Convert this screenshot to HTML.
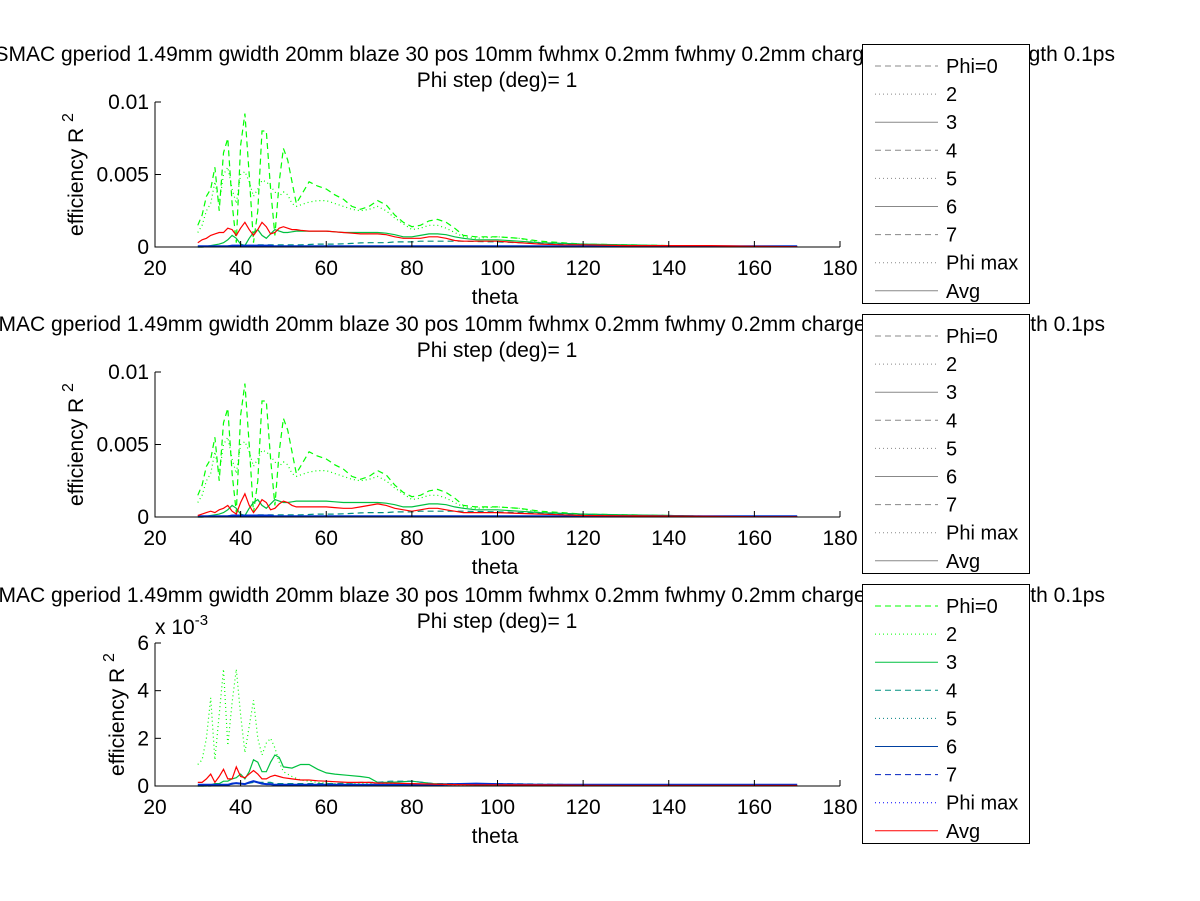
<!DOCTYPE html>
<html><head><meta charset="utf-8">
<style>
html,body{margin:0;padding:0;background:#fff;}
svg{display:block;font-family:"Liberation Sans",sans-serif;}
</style></head>
<body>
<svg id="fig" width="1200" height="901" viewBox="0 0 1200 901" xmlns="http://www.w3.org/2000/svg">
<rect x="0" y="0" width="1200" height="901" fill="#fff"/>
</svg>
<script>
// ---- data (theta in deg, values in units of 1e-3) ----
const xTicks = [20,40,60,80,100,120,140,160,180];
const yTicksTop = [0,5,10];
const yTickLabelsTop = ["0","0.005","0.01"];
const yTicksBot = [0,2,4,6];
const yTickLabelsBot = ["0","2","4","6"];
const legendLabels = ["Phi=0","2","3","4","5","6","7","Phi max","Avg"];

const thA = [30,31,32,33,34,35,36,37,38,39,40,41,42,43,44,45,46,47,48,49,50,51,52,53,54,56,58,60,62,64,66,68,70,72,74,76,78,80,82,84,86,88,90,92,95,100,105,110,115,120,130,140,150,160,170];
const p1Phi0 = [1.5,2.2,3.5,4.0,5.5,2.5,6.5,7.5,3.0,0.3,7.0,9.2,5.0,0.3,2.5,8.0,8.0,4.0,0.8,4.5,6.8,6.0,4.5,3.0,3.5,4.5,4.2,4.0,3.6,3.3,2.8,2.6,2.8,3.2,2.9,2.2,1.7,1.4,1.5,1.8,1.9,1.7,1.3,0.8,0.7,0.7,0.6,0.4,0.3,0.2,0.15,0.1,0.05,0.03,0.02];
const p1Phi2 = [1.0,1.5,2.5,3.0,4.5,3.0,5.0,5.5,4.0,3.0,5.0,5.2,4.5,3.5,4.0,4.6,4.5,4.2,3.8,3.5,3.8,3.6,3.0,2.8,2.9,3.1,3.2,3.2,3.0,2.8,2.6,2.5,2.6,2.8,2.5,2.0,1.6,1.2,1.3,1.5,1.5,1.3,1.0,0.7,0.6,0.7,0.6,0.3,0.25,0.2,0.12,0.08,0.04,0.02,0.01];
const p1S3 = [0.0,0.0,0.05,0.1,0.15,0.2,0.3,0.5,0.8,0.6,0.2,0.1,0.6,1.0,1.2,0.8,0.6,0.9,1.2,1.1,1.0,1.0,1.05,1.1,1.1,1.1,1.1,1.1,1.05,1.0,1.0,1.0,1.0,1.0,0.95,0.85,0.7,0.7,0.8,0.9,0.9,0.85,0.7,0.6,0.5,0.5,0.4,0.3,0.25,0.2,0.15,0.1,0.05,0.03,0.02];
const p1S4 = [0.0,0.0,0.0,0.02,0.03,0.05,0.05,0.08,0.1,0.1,0.1,0.1,0.12,0.12,0.15,0.15,0.15,0.15,0.15,0.15,0.15,0.15,0.15,0.15,0.15,0.17,0.2,0.2,0.2,0.22,0.25,0.28,0.3,0.3,0.3,0.35,0.35,0.35,0.4,0.4,0.4,0.4,0.4,0.4,0.38,0.35,0.3,0.25,0.2,0.15,0.1,0.1,0.05,0.03,0.02];
const p1Blue = [0.05,0.05,0.05,0.05,0.05,0.05,0.05,0.05,0.1,0.1,0.1,0.1,0.1,0.1,0.1,0.1,0.1,0.1,0.05,0.05,0.05,0.05,0.05,0.05,0.05,0.05,0.05,0.05,0.05,0.05,0.05,0.05,0.05,0.05,0.05,0.05,0.05,0.05,0.05,0.05,0.05,0.05,0.05,0.05,0.05,0.05,0.05,0.05,0.05,0.05,0.05,0.05,0.05,0.05,0.05];
const p1Avg = [0.3,0.5,0.6,0.8,0.9,1.0,1.0,1.3,1.2,0.8,1.3,1.7,1.2,0.8,1.2,1.7,1.4,0.9,1.0,1.3,1.4,1.3,1.2,1.2,1.15,1.1,1.1,1.1,1.05,1.0,0.95,0.9,0.9,0.9,0.85,0.7,0.6,0.6,0.6,0.7,0.7,0.6,0.45,0.4,0.4,0.4,0.3,0.2,0.15,0.15,0.1,0.1,0.1,0.05,0.02];
const p2Avg = [0.1,0.2,0.3,0.4,0.3,0.5,0.6,0.8,0.4,0.2,1.0,1.6,0.8,0.3,0.7,1.2,1.0,0.5,0.6,0.9,1.1,1.0,0.8,0.7,0.7,0.7,0.7,0.7,0.65,0.6,0.6,0.7,0.8,0.9,0.8,0.6,0.5,0.4,0.5,0.6,0.6,0.5,0.4,0.3,0.3,0.3,0.25,0.2,0.15,0.1,0.08,0.06,0.04,0.02,0.02];

const thB = [30,31,32,33,34,35,36,37,38,39,40,41,42,43,44,45,46,47,48,49,50,52,54,56,58,60,62,65,68,70,72,75,80,85,90,95,100,110,120,130,140,150,160,170];
const p3Phi2 = [0.9,1.1,2.0,3.7,1.1,3.0,4.9,1.7,3.5,4.9,3.0,1.4,2.5,3.6,2.0,1.3,1.8,2.0,1.6,1.0,0.6,0.4,0.25,0.2,0.15,0.12,0.1,0.1,0.1,0.1,0.1,0.1,0.1,0.05,0.05,0.05,0.05,0.03,0.02,0.02,0.02,0.02,0.02,0.02];
const p3S3 = [0.0,0.0,0.0,0.05,0.1,0.1,0.2,0.2,0.3,0.35,0.5,0.3,0.6,1.1,1.0,0.6,0.6,1.0,1.3,1.2,0.8,0.75,0.9,0.9,0.7,0.55,0.5,0.45,0.4,0.35,0.15,0.15,0.2,0.1,0.08,0.05,0.05,0.04,0.03,0.02,0.02,0.02,0.02,0.02];
const p3S4 = [0.0,0.0,0.0,0.0,0.02,0.03,0.05,0.05,0.08,0.1,0.1,0.1,0.12,0.15,0.15,0.15,0.15,0.15,0.1,0.1,0.1,0.1,0.1,0.1,0.1,0.1,0.1,0.12,0.15,0.15,0.15,0.2,0.2,0.1,0.1,0.1,0.1,0.08,0.05,0.05,0.05,0.03,0.02,0.02];
const p3Blue = [0.05,0.05,0.05,0.05,0.05,0.05,0.05,0.05,0.1,0.12,0.1,0.08,0.15,0.2,0.15,0.1,0.08,0.08,0.05,0.05,0.05,0.05,0.05,0.05,0.05,0.05,0.05,0.05,0.05,0.05,0.05,0.05,0.05,0.05,0.08,0.1,0.08,0.05,0.05,0.05,0.05,0.05,0.05,0.05];
const p3Avg = [0.15,0.15,0.3,0.5,0.15,0.4,0.7,0.3,0.3,0.8,0.4,0.35,0.5,0.65,0.5,0.3,0.3,0.4,0.45,0.4,0.35,0.3,0.25,0.25,0.22,0.2,0.18,0.15,0.15,0.15,0.12,0.12,0.1,0.08,0.06,0.05,0.05,0.04,0.03,0.02,0.02,0.02,0.02,0.02];

// ---- drawing ----
const NS = "http://www.w3.org/2000/svg";
const svg = document.getElementById('fig');
function mk(tag, attrs, parent){
  const e = document.createElementNS(NS, tag);
  for (const k in attrs) e.setAttribute(k, attrs[k]);
  (parent||svg).appendChild(e);
  return e;
}
const FS = 21;
const X0 = 155, X1 = 840;
const styles = {
  phi0:{stroke:"#00ff00", dash:"6,4"},
  phi2:{stroke:"#00ff00", dash:"1,3"},
  s3:{stroke:"#00c040", dash:""},
  s4:{stroke:"#009080", dash:"6,4"},
  blue:{stroke:"#0030d0", dash:"", w:2},
  avg:{stroke:"#ff0000", dash:""}
};
function drawPlot(idx, yBase, yTop, yMax, ticks, tickLabels, series, titleEnd, exp){
  const g = mk('g', {});
  
  
  const sx = v => X0 + (v - 20) / 160 * (X1 - X0);
  const sy = v => yBase - v / yMax * (yBase - yTop);
  const t1 = mk('text', {x: titleEnd, y: yTop - 41, 'font-size': FS, 'text-anchor': 'end'}, g);
  t1.textContent = "SMAC gperiod 1.49mm gwidth 20mm blaze 30 pos 10mm fwhmx 0.2mm fwhmy 0.2mm charge 20pC bunch length 0.1ps";
  
  
  const t2 = mk('text', {x: 497, y: yTop - 15, 'font-size': FS, 'text-anchor': 'middle'}, g);
  t2.textContent = "Phi step (deg)= 1";
  
  
  series.forEach(s => {
    const st = styles[s.style];
    let d = "";
    s.th.forEach((th, i) => { d += (i ? "L" : "M") + sx(th).toFixed(1) + "," + sy(s.v[i]).toFixed(1); });
    const p = mk('path', {d: d, fill: 'none', stroke: st.stroke, 'stroke-width': st.w || 1.2, 'stroke-dasharray': st.dash}, g);
    
    
  });
  const ax = mk('path', {d: `M${X0},${yTop}V${yBase}H${X1}`, fill: 'none', stroke: '#000', 'stroke-width': 1}, g);
  
  
  xTicks.forEach(v => {
    mk('line', {x1: sx(v), x2: sx(v), y1: yBase, y2: yBase - 6, stroke: '#000'}, g);
    const tl = mk('text', {x: sx(v), y: yBase + 28, 'font-size': FS, 'text-anchor': 'middle'}, g);
    tl.textContent = v;
    
    
  });
  ticks.forEach((v, i) => {
    mk('line', {x1: X0, x2: X0 + 6, y1: sy(v), y2: sy(v), stroke: '#000'}, g);
    const tl = mk('text', {x: X0 - 6, y: sy(v) + 7, 'font-size': FS, 'text-anchor': 'end'}, g);
    tl.textContent = tickLabels[i];
    
    
  });
  if (exp) {
    const e = mk('text', {x: 155, y: yTop - 9, 'font-size': FS}, g);
    e.innerHTML = 'x 10<tspan dy="-9" font-size="15">-3</tspan>';
    
    
  }
  const xl = mk('text', {x: 495, y: yBase + 57, 'font-size': FS, 'text-anchor': 'middle'}, g);
  xl.textContent = "theta";
  
  
  const ylx = exp ? 124 : 83;
  const yl = mk('text', {x: 0, y: 0, 'font-size': FS, 'text-anchor': 'middle', transform: `translate(${ylx},${(yBase + yTop) / 2}) rotate(-90)`}, g);
  yl.innerHTML = 'efficiency R <tspan dy="-10" font-size="16">2</tspan>';
  
  
}
function drawLegend(idx, top, colored){
  const g = mk('g', {});
  
  
  mk('rect', {x: 862.5, y: top + 0.5, width: 167, height: 259, fill: '#fff', stroke: '#000'}, g);
  const cols = ["#00ff00","#00ff00","#00c040","#009080","#008080","#0040a0","#0020c0","#0000ff","#ff0000"];
  const dashes = ["6,4","1,3","","6,4","1,3","","6,4","1,3",""];
  legendLabels.forEach((lab, i) => {
    const y = top + 22 + i * 28.1;
    const ln = mk('line', {x1: 875, x2: 938, y1: y, y2: y, stroke: colored ? cols[i] : '#888', 'stroke-width': 1, 'stroke-dasharray': dashes[i]}, g);
    
    
    const tx = mk('text', {x: 946, y: y + 7, 'font-size': 20}, g);
    tx.textContent = lab;
    
    
  });
}
const mkSeries = (p0, p2, s3, s4, blue, avg, th) => [
  {th: th, v: p0 || [], style: 'phi0'},
  {th: th, v: p2, style: 'phi2'},
  {th: th, v: s3, style: 's3'},
  {th: th, v: s4, style: 's4'},
  {th: th, v: blue, style: 'blue'},
  {th: th, v: avg, style: 'avg'}
].filter(s => s.v.length);
drawPlot(1, 247, 102, 10, yTicksTop, yTickLabelsTop, mkSeries(p1Phi0, p1Phi2, p1S3, p1S4, p1Blue, p1Avg, thA), 1115, false);
drawPlot(2, 517, 372, 10, yTicksTop, yTickLabelsTop, mkSeries(p1Phi0, p1Phi2, p1S3, p1S4, p1Blue, p2Avg, thA), 1105, false);
drawPlot(3, 786, 643, 6, yTicksBot, yTickLabelsBot, mkSeries(null, p3Phi2, p3S3, p3S4, p3Blue, p3Avg, thB), 1105, true);
drawLegend(1, 44, false);
drawLegend(2, 314, false);
drawLegend(3, 584, true);
</script>
</body></html>
